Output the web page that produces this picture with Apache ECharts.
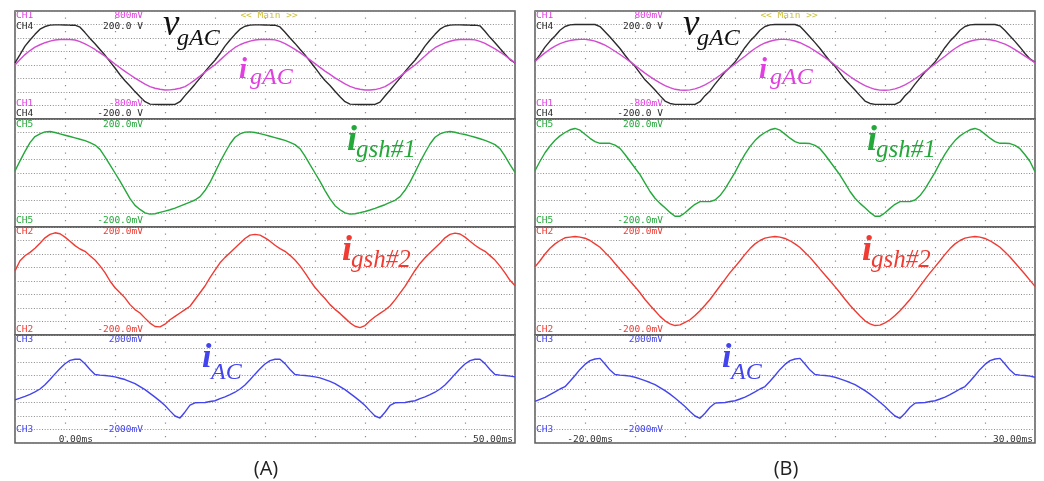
<!DOCTYPE html>
<html><head><meta charset="utf-8">
<script src="https://cdn.jsdelivr.net/npm/echarts@6/dist/echarts.min.js"></script>
<style>html,body{margin:0;padding:0;background:#fff}#c{width:1044px;height:481px}</style>
</head><body><div id="c"></div>
<script>
// ---------------- data (values in vertical divisions, one sample every STEP_MS) ----------------
const STEP_MS = 0.5;
const timeStartA = 0,   timeEndA = 50;
const timeStartB = -20, timeEndB = 30;
const timeLabelsA = ['0.00ms', '50.00ms'];
const timeLabelsB = ['-20.00ms', '30.00ms'];
const rangeCH1 = ['800mV', '-800mV'];
const rangeCH4 = ['200.0 V', '-200.0 V'];
const rangeCH5 = ['200.0mV', '-200.0mV'];
const rangeCH2 = ['200.0mV', '-200.0mV'];
const rangeCH3 = ['2000mV', '-2000mV'];

// Panel (A)
const vgAC_A = [
 0.15,0.77,1.40,1.85,2.27,2.65,2.85,2.95,2.97,2.97,2.96,2.95,2.95,2.80,2.40,1.97,1.57,1.15,0.72,0.25,
 -0.22,-0.72,-1.17,-1.55,-1.97,-2.35,-2.72,-2.90,-2.92,-2.93,-2.93,-2.93,-2.92,-2.72,-2.27,-1.85,-1.42,-0.97,-0.50,-0.05,
 0.35,0.85,1.40,1.85,2.27,2.65,2.87,2.95,2.97,2.97,2.96,2.95,2.95,2.82,2.42,2.00,1.60,1.17,0.75,0.28,
 -0.20,-0.70,-1.15,-1.52,-1.95,-2.35,-2.72,-2.90,-2.92,-2.93,-2.93,-2.93,-2.92,-2.75,-2.30,-1.87,-1.42,-0.97,-0.50,-0.05,
 0.35,0.85,1.40,1.85,2.27,2.65,2.87,2.95,2.97,2.97,2.96,2.95,2.95,2.90,2.50,2.05,1.65,1.22,0.80,0.40,
 0.15];
const igAC_A = [
 0.00,0.40,0.77,1.07,1.32,1.50,1.65,1.77,1.85,1.89,1.90,1.89,1.85,1.73,1.57,1.37,1.15,0.90,0.65,0.36,
 0.07,-0.20,-0.47,-0.72,-0.97,-1.20,-1.42,-1.60,-1.72,-1.80,-1.85,-1.84,-1.80,-1.72,-1.60,-1.37,-1.10,-0.82,-0.52,-0.25,
 0.02,0.36,0.70,1.02,1.30,1.50,1.65,1.77,1.85,1.89,1.90,1.89,1.86,1.75,1.58,1.38,1.16,0.92,0.66,0.38,
 0.10,-0.18,-0.45,-0.70,-0.95,-1.18,-1.40,-1.58,-1.72,-1.80,-1.85,-1.85,-1.82,-1.73,-1.60,-1.38,-1.12,-0.84,-0.55,-0.27,
 0.00,0.34,0.66,1.00,1.28,1.48,1.64,1.76,1.85,1.89,1.90,1.89,1.86,1.75,1.60,1.40,1.20,0.96,0.70,0.44,
 0.18];
const igsh1_A = [
 0.15,0.90,1.60,2.25,2.70,2.90,3.05,3.07,3.00,2.90,2.80,2.70,2.60,2.50,2.40,2.25,2.07,1.75,1.20,0.60,
 0.00,-0.60,-1.25,-1.90,-2.40,-2.70,-2.95,-3.05,-3.02,-2.92,-2.82,-2.72,-2.60,-2.45,-2.30,-2.15,-2.00,-1.75,-1.30,-0.70,
 0.05,0.80,1.50,2.15,2.65,2.90,3.03,3.05,3.00,2.92,2.82,2.72,2.62,2.52,2.42,2.27,2.10,1.80,1.25,0.62,
 0.00,-0.62,-1.30,-1.92,-2.42,-2.72,-2.95,-3.05,-3.02,-2.94,-2.85,-2.74,-2.62,-2.48,-2.35,-2.18,-2.02,-1.75,-1.28,-0.68,
 0.05,0.80,1.50,2.15,2.65,2.90,3.03,3.07,3.02,2.92,2.85,2.75,2.65,2.54,2.42,2.27,2.10,1.80,1.25,0.62,
 0.05];
const igsh2_A = [
 0.75,1.50,1.87,2.12,2.42,2.80,3.20,3.45,3.57,3.50,3.25,2.95,2.62,2.37,2.20,1.87,1.55,1.12,0.62,0.00,
 -0.50,-0.87,-1.25,-1.75,-2.12,-2.37,-2.75,-3.12,-3.37,-3.40,-3.20,-2.87,-2.62,-2.37,-2.12,-1.87,-1.37,-0.87,-0.37,0.25,
 0.80,1.35,1.75,2.10,2.45,2.80,3.15,3.40,3.45,3.40,3.20,2.95,2.65,2.40,2.20,1.90,1.55,1.12,0.60,0.05,
 -0.48,-0.90,-1.30,-1.75,-2.10,-2.40,-2.75,-3.10,-3.35,-3.45,-3.30,-2.95,-2.65,-2.40,-2.15,-1.85,-1.40,-0.90,-0.40,0.20,
 0.78,1.30,1.72,2.10,2.45,2.80,3.20,3.45,3.55,3.48,3.25,2.95,2.65,2.40,2.20,1.88,1.55,1.10,0.60,0.05,
 -0.35];
const iAC_A = [
 -0.80,-0.68,-0.55,-0.40,-0.22,0.00,0.32,0.70,1.12,1.52,1.87,2.12,2.20,2.20,1.87,1.45,1.07,1.03,1.00,0.95,
 0.90,0.80,0.70,0.55,0.40,0.18,-0.05,-0.32,-0.60,-0.90,-1.22,-1.62,-2.00,-2.15,-1.70,-1.20,-1.02,-1.01,-1.00,-0.93,
 -0.87,-0.72,-0.58,-0.42,-0.24,0.00,0.30,0.68,1.10,1.50,1.85,2.10,2.20,2.20,1.88,1.45,1.07,1.03,1.00,0.95,
 0.90,0.82,0.70,0.56,0.40,0.18,-0.05,-0.32,-0.60,-0.90,-1.22,-1.62,-2.00,-2.15,-1.72,-1.22,-1.02,-1.01,-1.00,-0.93,
 -0.87,-0.72,-0.58,-0.42,-0.24,0.00,0.30,0.68,1.10,1.50,1.85,2.10,2.20,2.20,1.88,1.45,1.07,1.03,1.00,0.95,
 0.90];

// Panel (B)
const vgAC_B = [
 0.27,0.77,1.32,1.77,2.15,2.57,2.85,2.97,3.00,3.00,3.00,3.00,3.00,2.85,2.47,2.07,1.65,1.22,0.72,0.27,
 -0.10,-0.60,-1.10,-1.47,-1.85,-2.27,-2.67,-2.85,-2.92,-2.92,-2.92,-2.92,-2.92,-2.72,-2.27,-1.92,-1.42,-0.97,-0.52,-0.17,
 0.22,0.75,1.30,1.77,2.15,2.57,2.85,2.97,3.00,3.00,3.00,3.00,3.00,2.87,2.48,2.08,1.66,1.22,0.74,0.28,
 -0.10,-0.58,-1.08,-1.47,-1.85,-2.27,-2.67,-2.85,-2.92,-2.92,-2.92,-2.92,-2.92,-2.74,-2.28,-1.92,-1.42,-0.97,-0.52,-0.17,
 0.22,0.75,1.30,1.77,2.15,2.57,2.85,2.97,3.00,3.00,3.00,3.00,3.00,2.90,2.55,2.15,1.75,1.32,0.85,0.45,
 0.20];
const igAC_B = [
 0.27,0.60,0.90,1.17,1.40,1.58,1.72,1.81,1.87,1.90,1.90,1.85,1.77,1.63,1.47,1.26,1.02,0.78,0.52,0.25,
 -0.02,-0.32,-0.60,-0.86,-1.10,-1.33,-1.52,-1.68,-1.80,-1.85,-1.87,-1.84,-1.77,-1.64,-1.47,-1.26,-1.02,-0.76,-0.47,-0.20,
 0.07,0.37,0.65,0.95,1.22,1.45,1.63,1.76,1.85,1.90,1.90,1.86,1.78,1.65,1.48,1.28,1.05,0.80,0.55,0.28,
 0.00,-0.30,-0.58,-0.85,-1.10,-1.33,-1.52,-1.68,-1.80,-1.86,-1.87,-1.84,-1.77,-1.64,-1.47,-1.26,-1.02,-0.76,-0.47,-0.20,
 0.07,0.37,0.65,0.95,1.22,1.45,1.63,1.76,1.85,1.90,1.90,1.87,1.80,1.68,1.55,1.36,1.14,0.90,0.66,0.42,
 0.18];
const igsh1_B = [
 0.17,0.87,1.50,2.00,2.42,2.75,3.00,3.20,3.30,3.17,2.87,2.57,2.32,2.20,2.20,2.20,2.07,1.82,1.37,0.87,
 0.37,-0.12,-0.75,-1.37,-1.87,-2.25,-2.57,-2.92,-3.20,-3.20,-2.95,-2.62,-2.32,-2.12,-2.12,-2.12,-2.00,-1.67,-1.17,-0.57,
 0.05,0.75,1.40,1.95,2.40,2.75,3.00,3.20,3.30,3.17,2.88,2.58,2.33,2.20,2.20,2.18,2.05,1.80,1.35,0.85,
 0.35,-0.15,-0.75,-1.37,-1.87,-2.25,-2.58,-2.92,-3.20,-3.20,-2.95,-2.62,-2.32,-2.12,-2.12,-2.12,-2.00,-1.67,-1.17,-0.57,
 0.05,0.75,1.40,1.95,2.40,2.75,3.00,3.20,3.30,3.17,2.88,2.58,2.33,2.20,2.20,2.18,2.05,1.80,1.35,0.85,
 0.10];
const igsh2_B = [
 1.05,1.50,2.00,2.42,2.75,3.00,3.20,3.25,3.30,3.25,3.17,3.00,2.75,2.50,2.12,1.75,1.30,0.87,0.45,0.00,
 -0.42,-0.87,-1.37,-1.80,-2.20,-2.62,-2.95,-3.17,-3.30,-3.25,-3.07,-2.87,-2.55,-2.20,-1.80,-1.37,-0.87,-0.37,0.12,0.62,
 1.05,1.50,1.97,2.40,2.75,3.00,3.18,3.25,3.30,3.25,3.15,2.98,2.75,2.48,2.12,1.75,1.32,0.88,0.45,0.02,
 -0.42,-0.87,-1.35,-1.80,-2.20,-2.60,-2.95,-3.17,-3.30,-3.27,-3.10,-2.87,-2.55,-2.20,-1.80,-1.37,-0.88,-0.38,0.12,0.60,
 1.05,1.50,1.97,2.40,2.75,3.00,3.18,3.25,3.30,3.25,3.15,2.98,2.75,2.50,2.15,1.78,1.35,0.92,0.50,0.05,
 -0.40];
const iAC_B = [
 -0.92,-0.77,-0.62,-0.42,-0.22,0.00,0.17,0.57,1.00,1.45,1.82,2.10,2.22,2.27,1.85,1.40,1.07,1.03,1.00,0.95,
 0.87,0.75,0.62,0.48,0.32,0.10,-0.12,-0.38,-0.67,-0.98,-1.30,-1.67,-2.00,-2.17,-1.80,-1.35,-1.05,-1.02,-1.00,-0.93,
 -0.87,-0.74,-0.60,-0.42,-0.22,0.00,0.18,0.57,1.00,1.45,1.82,2.10,2.22,2.27,1.85,1.40,1.07,1.03,1.00,0.95,
 0.87,0.75,0.62,0.48,0.32,0.10,-0.12,-0.38,-0.67,-0.98,-1.30,-1.67,-2.00,-2.17,-1.80,-1.35,-1.05,-1.02,-1.00,-0.93,
 -0.87,-0.74,-0.60,-0.42,-0.22,0.00,0.18,0.57,1.00,1.45,1.82,2.10,2.22,2.27,1.85,1.40,1.07,1.03,1.00,0.95,
 0.87];

// ---------------- layout & style ----------------
const GRID_W = 500, SUB_H = 108;
const subTop = [11, 119, 227, 335];
const COL = {ch1:'#d24bd2', ch1t:'#e040e0', ch4:'#2b2b2b', ch5:'#24a83a', ch2:'#f03a32', ch3:'#4444ee', main:'#cdbf3c', time:'#333'};
const MONO = '9.5px "DejaVu Sans Mono"';
const SERIF = '"Liberation Serif"';

const panels = [
  {left:15,  t0:timeStartA, t1:timeEndA, times:timeLabelsA, cap:'(A)',
   sub:[[['vgAC',vgAC_A,COL.ch4],['igAC',igAC_A,COL.ch1]],[['igsh1',igsh1_A,COL.ch5]],[['igsh2',igsh2_A,COL.ch2]],[['iAC',iAC_A,COL.ch3]]]},
  {left:535, t0:timeStartB, t1:timeEndB, times:timeLabelsB, cap:'(B)',
   sub:[[['vgAC',vgAC_B,COL.ch4],['igAC',igAC_B,COL.ch1]],[['igsh1',igsh1_B,COL.ch5]],[['igsh2',igsh2_B,COL.ch2]],[['iAC',iAC_B,COL.ch3]]]}
];

const grid = [], xAxis = [], yAxis = [], series = [], graphic = [];
const gridLine = '#8c8c8c';

function txt(x, y, s, fill, font, align) {
  graphic.push({type:'text', x:x, y:y, z:50, silent:true,
    style:{text:s, fill:fill, font:font, align:align || 'left', verticalAlign:'middle'}});
}

panels.forEach((p, pi) => {
  p.sub.forEach((traces, k) => {
    const gi = pi * 4 + k;
    grid.push({left:p.left, top:subTop[k], width:GRID_W, height:SUB_H, show:true,
      borderColor:'#5a5a5a', borderWidth:1.5, backgroundColor:'transparent'});
    xAxis.push({type:'value', gridIndex:gi, min:p.t0, max:p.t1, interval:5,
      axisLine:{show:false}, axisTick:{show:false}, axisLabel:{show:false},
      splitLine:{show:true, lineStyle:{color:gridLine, width:1.2, type:[1.2, 12.3], dashOffset:7}}});
    yAxis.push({type:'value', gridIndex:gi, min:-4, max:4, interval:1,
      axisLine:{show:false}, axisTick:{show:false}, axisLabel:{show:false},
      splitLine:{show:true, lineStyle:{color:gridLine, width:1, type:[1, 1.7]}}});
    traces.forEach(tr => {
      series.push({type:'line', name:tr[0], xAxisIndex:gi, yAxisIndex:gi,
        data:tr[1].map((v, i) => [p.t0 + i * STEP_MS, v]),
        showSymbol:false, symbol:'none', smooth:false, animation:false,
        lineStyle:{color:tr[2], width:1.4}, itemStyle:{color:tr[2]}});
    });
  });

  const L = p.left, R = p.left + 128;
  // channel scale labels
  txt(L + 1, 16, 'CH1', COL.ch1t, MONO); txt(R, 16, rangeCH1[0], COL.ch1t, MONO, 'right');
  txt(L + 254, 16, '<< Main >>', COL.main, MONO, 'center');
  txt(L + 1, 26.5, 'CH4', COL.ch4, MONO); txt(R, 26.5, rangeCH4[0], COL.ch4, MONO, 'right');
  txt(L + 1, 103.5, 'CH1', COL.ch1t, MONO); txt(R, 103.5, rangeCH1[1], COL.ch1t, MONO, 'right');
  txt(L + 1, 114, 'CH4', COL.ch4, MONO); txt(R, 114, rangeCH4[1], COL.ch4, MONO, 'right');
  txt(L + 1, 124.5, 'CH5', COL.ch5, MONO); txt(R, 124.5, rangeCH5[0], COL.ch5, MONO, 'right');
  txt(L + 1, 221, 'CH5', COL.ch5, MONO); txt(R, 221, rangeCH5[1], COL.ch5, MONO, 'right');
  txt(L + 1, 232, 'CH2', COL.ch2, MONO); txt(R, 232, rangeCH2[0], COL.ch2, MONO, 'right');
  txt(L + 1, 329.5, 'CH2', COL.ch2, MONO); txt(R, 329.5, rangeCH2[1], COL.ch2, MONO, 'right');
  txt(L + 1, 339.5, 'CH3', COL.ch3, MONO); txt(R, 339.5, rangeCH3[0], COL.ch3, MONO, 'right');
  txt(L + 1, 430, 'CH3', COL.ch3, MONO); txt(R, 430, rangeCH3[1], COL.ch3, MONO, 'right');
  txt(L + 78, 440, p.times[0], COL.time, MONO, 'right');
  txt(L + 498, 440, p.times[1], COL.time, MONO, 'right');

  // trace names
  txt(L + 148, 25, 'v', '#111', 'italic 37px ' + SERIF);
  txt(L + 162, 39, 'gAC', '#111', 'italic 24px ' + SERIF);
  txt(L + 224, 70.5, 'i', COL.ch1t, 'italic bold 29px ' + SERIF);
  txt(L + 235, 77.5, 'gAC', COL.ch1t, 'italic 24px ' + SERIF);
  txt(L + 332, 140.5, 'i', COL.ch5, 'italic bold 36px ' + SERIF);
  txt(L + 341, 150.5, 'gsh#1', COL.ch5, 'italic 25px ' + SERIF);
  txt(L + 327, 250.5, 'i', COL.ch2, 'italic bold 36px ' + SERIF);
  txt(L + 336, 260.5, 'gsh#2', COL.ch2, 'italic 25px ' + SERIF);
  txt(L + 187, 358.5, 'i', COL.ch3, 'italic bold 34px ' + SERIF);
  txt(L + 196, 373, 'AC', COL.ch3, 'italic 24px ' + SERIF);

  // caption
  txt(L + 251, 469, p.cap, '#222', '20px "Open Sans"', 'center');
});

const chart = echarts.init(document.getElementById('c'), null, {renderer:'canvas'});
chart.setOption({animation:false, backgroundColor:'#fff', grid, xAxis, yAxis, series, graphic});
</script></body></html>
